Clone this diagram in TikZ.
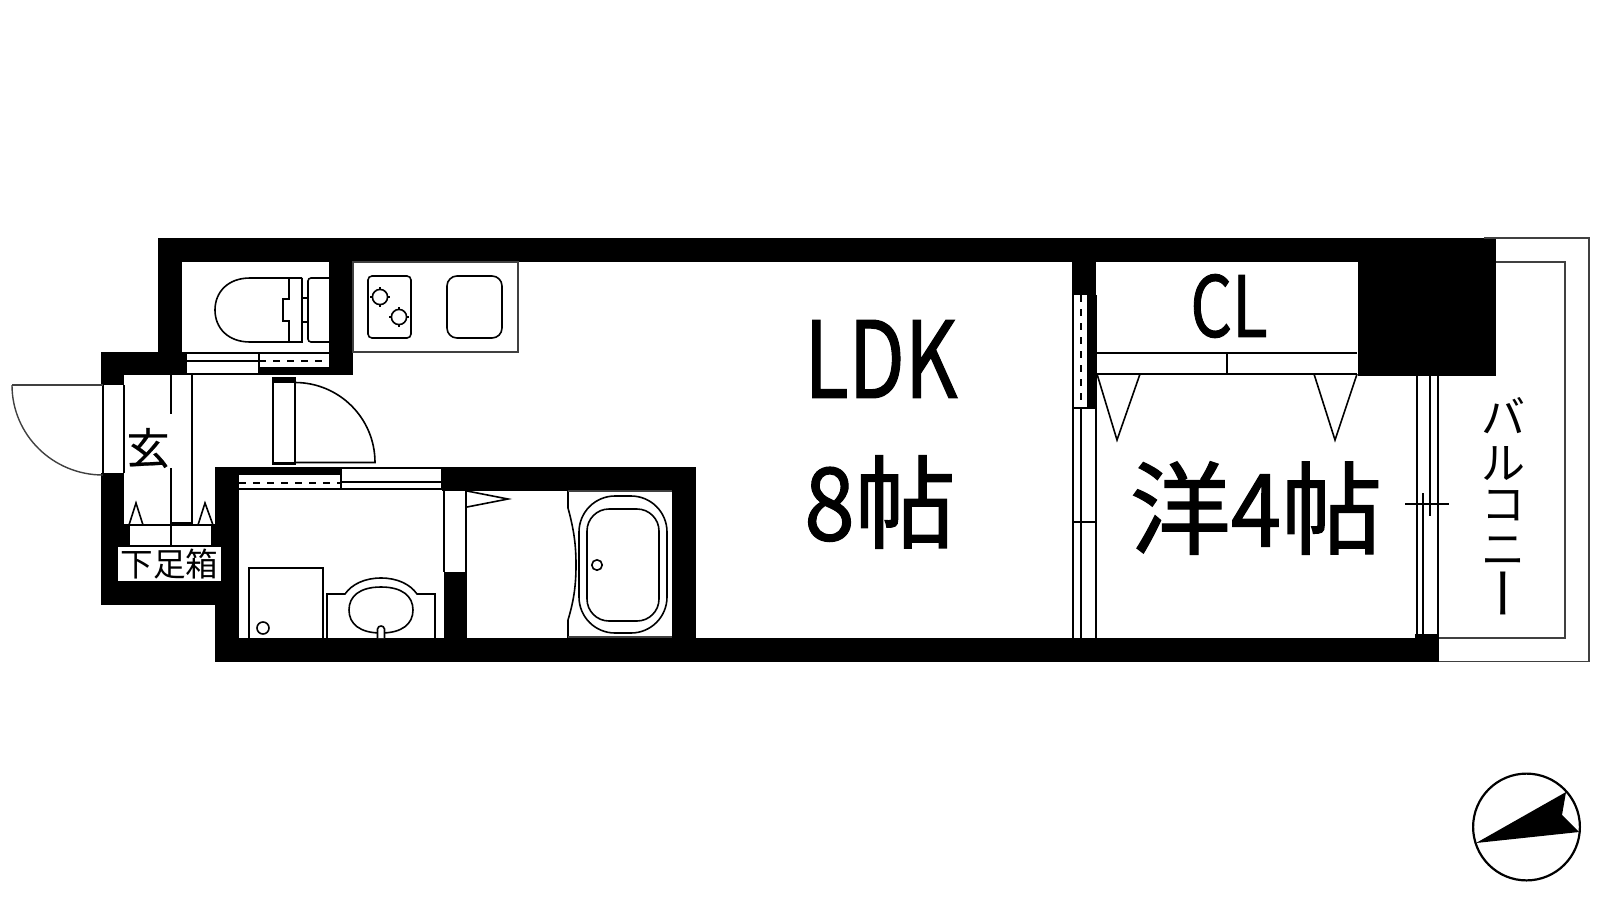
\documentclass[tikz,border=0pt]{standalone}
\usepackage{fontspec}
\setmainfont{Noto Sans CJK JP}
\newfontfamily\heavyfont[FakeBold=1.2]{Noto Sans CJK JP}
\newfontfamily\midfont[FakeBold=0.5]{Noto Sans CJK JP}
\tikzset{
 x=0.5pt,y=-0.5pt,
 wall/.style={fill=black,draw=none},
 ln/.style={draw=black,line width=0.8pt,fill=none},
 thin/.style={draw=black!75,line width=0.7pt,fill=none},
 dsh/.style={draw=black,line width=0.8pt,dash pattern=on 3.5pt off 3.5pt},
 lbl/.style={inner sep=0pt,text=black},
}
\newcommand{\tx}[3]{\scalebox{#2}[1]{\fontsize{#1}{#1}\selectfont #3}}
\begin{document}
\begin{tikzpicture}
\useasboundingbox (0,0) rectangle (1600,900);
\fill[white] (0,0) rectangle (1600,900);
% walls
\fill[wall] (158,238) rectangle (1496,262);
\fill[wall] (158,238) rectangle (182,352);
\fill[wall] (329,262) rectangle (353,375);
\fill[wall] (101,352) rectangle (187,375);
\fill[wall] (101,352) rectangle (124,385);
\fill[wall] (1358,238) rectangle (1496,376);
\fill[wall] (1072,262) rectangle (1096,295);
\fill[wall] (1087,295) rectangle (1096,408);
\fill[wall] (259,367) rectangle (353,375);
\fill[wall] (101,473) rectangle (124,605);
\fill[wall] (101,581) rectangle (239,605);
\fill[wall] (124,546) rectangle (239,581);
\fill[wall] (124,524) rectangle (129,546);
\fill[wall] (212,524) rectangle (239,546);
\fill[wall] (171,522) rectangle (192,525);
\fill[wall] (215,467) rectangle (239,662);
\fill[wall] (215,467) rectangle (341,475);
\fill[wall] (442,467) rectangle (696,491);
\fill[wall] (672,467) rectangle (696,662);
\fill[wall] (215,638) rectangle (1415,662);
\fill[wall] (1415,634) rectangle (1439,662);
\fill[wall] (444,572) rectangle (467,638);
% toilet door strip
\draw[ln] (187,353) -- (332,353);
\draw[ln] (187,361) -- (259,361);
\draw[ln] (187,374) -- (259,374);
\draw[ln] (259,353) -- (259,375);
\draw[dsh] (259,361) -- (332,361);
% toilet
\draw[ln] (302,278) -- (250,278) .. controls (228,278) and (215,292) .. (215,310) .. controls (215,328) and (228,342) .. (250,342) -- (302,342) -- (302,278);
\draw[ln] (289,278) -- (289,299) -- (283,299) -- (283,321) -- (289,321) -- (289,342);
\draw[ln,rounded corners=1.5pt] (329,278) -- (308,278) -- (308,342) -- (329,342);
\draw[ln] (302,298) rectangle (308,322);
% kitchen
\draw[thin] (353,262) rectangle (518,352);
\draw[ln,rounded corners=2pt] (368,276) rectangle (411,338);
\draw[ln,rounded corners=5pt] (447,276) rectangle (502,338);
\foreach \px/\py in {380/297,399/317}{
 \draw[ln] (\px-10,\py) -- (\px+10,\py) (\px,\py-10) -- (\px,\py+10);
 \draw[ln,fill=white] (\px,\py) circle (3.8pt);
 }
% inner door
\draw[ln] (273,382) rectangle (295,463);
\fill[wall] (272,377) rectangle (296,383);
\fill[wall] (272,462) rectangle (296,465);
\draw[ln] (295,382.5) .. controls (339,382.5) and (375,418) .. (375,462.5) -- (295,462.5);
% entrance
\draw[ln] (171,375) -- (171,524);
\draw[ln] (192,375) -- (192,524);
\draw[ln] (103,385) -- (103,473);
\draw[ln] (124,385) -- (124,473);
\draw[thin] (12,385) -- (103,385);
\draw[thin] (12,385) .. controls (12,435) and (53,475) .. (103,475);
\draw[ln] (129,525) rectangle (212,546);
\draw[ln] (171,525) -- (171,546);
\draw[ln] (129,525) -- (136,503) -- (143,525);
\draw[ln] (198,525) -- (205,503) -- (213,525);
\node[fill=white,minimum width=23.5pt,minimum height=27pt,inner sep=0pt] (genbg) at (148.5,441) {};
\node[lbl] (gen) at (148,448) {\fontsize{21.5}{21.5}\midfont 玄};
\node[fill=white,lbl,minimum width=51.5pt,minimum height=17pt] (geta) at (169.5,564) {\fontsize{16.3}{16.3}\selectfont 下足箱};
% wash door strip
\draw[dsh] (239,483) -- (341,483);
\draw[ln] (239,489) -- (442,489);
\draw[ln] (341,468) -- (442,468);
\draw[ln] (341,482) -- (442,482);
\draw[ln] (341,468) -- (341,489);
\draw[ln] (442,468) -- (442,489);
% wash machine
\draw[ln] (249,638) -- (249,568) -- (323,568) -- (323,638);
\draw[ln] (263,628) circle (3pt);
% vanity
\draw[ln] (327,638) -- (327,594) -- (345,594) .. controls (352,584) and (365,578) .. (381,578) .. controls (397,578) and (410,584) .. (417,594) -- (435,594) -- (435,638);
\draw[ln] (381,587) .. controls (402,587) and (413,596) .. (413,610) .. controls (413,624) and (402,633) .. (381,633) .. controls (360,633) and (349,624) .. (349,610) .. controls (349,596) and (360,587) .. (381,587) -- cycle;
\draw[ln,fill=white] (377.5,638) -- (377.5,629) .. controls (378,625) and (384,625) .. (384.5,629) -- (384.5,638);
% bath door
\draw[ln] (444,491) -- (444,572);
\draw[ln] (466,491) -- (466,572);
\draw[ln] (467,491) -- (508,499) -- (467,507);
% bath
\draw[ln] (568,491) -- (568,508) .. controls (574,530) and (576,545) .. (576,565) .. controls (576,585) and (574,600) .. (568,620) -- (568,638);
\draw[thin] (568,491) -- (672,491) (568,637) -- (672,637);
\draw[ln,rounded corners=18pt] (579,496) rectangle (667,633);
\draw[ln,rounded corners=11pt] (587,509) rectangle (659,621);
\draw[ln] (597,565) circle (2.6pt);
% partition LDK/Western
\draw[ln] (1073,295) -- (1073,638);
\draw[ln] (1096,295) -- (1096,638);
\draw[dsh] (1081,295) -- (1081,408);
\draw[ln] (1081,408) -- (1081,638);
\draw[ln] (1073,408) -- (1096,408);
\draw[ln] (1073,522) -- (1096,522);
% closet
\draw[ln] (1097,353) -- (1357,353);
\draw[ln] (1097,374) -- (1357,374);
\draw[ln] (1227,353) -- (1227,374);
\draw[ln] (1097,374) -- (1117,440) -- (1140,374);
\draw[ln] (1314,374) -- (1335,440) -- (1357,374);
% window
\draw[ln] (1417,376) -- (1417,634);
\draw[ln] (1423,493) -- (1423,634);
\draw[ln] (1430,376) -- (1430,516);
\draw[ln] (1438,376) -- (1438,634);
\draw[ln] (1405,504) -- (1449,504);
% balcony
\draw[thin] (1484,238) -- (1589,238) -- (1589,661.5) -- (1439,661.5);
\draw[thin] (1496,262) -- (1565,262) -- (1565,638) -- (1439,638);
% labels
\node[lbl] (ldk) at (881,359) {\tx{53}{0.77}{\heavyfont LDK}};
\node[lbl] (eight) at (880,502) {\tx{50.5}{0.9}{\heavyfont 8}\fontsize{50.5}{50.5}\heavyfont 帖};
\node[lbl] (west) at (1256,508) {\fontsize{50.5}{50.5}\heavyfont 洋\tx{50.5}{0.9}{\heavyfont 4}帖};
\node[lbl] (cl) at (1229,306) {\tx{42}{0.78}{\heavyfont CL}};
\node[lbl] (b1) at (1503,416) {\fontsize{22}{22}\selectfont バ};
\node[lbl] (b2) at (1503,464) {\fontsize{22}{22}\selectfont ル};
\node[lbl] (b3) at (1503,506) {\fontsize{22}{22}\selectfont コ};
\node[lbl] (b4) at (1503,551) {\fontsize{22}{22}\selectfont ニ};
\node[lbl,rotate=-90] (b5) at (1494,593) {\fontsize{27}{27}\selectfont ー};
% compass
\draw[draw=black,line width=1.1pt] (1526.5,827) circle (26.7pt);
\fill[black] (1476,843) -- (1566,792) -- (1562,815) -- (1579,832) -- cycle;
\end{tikzpicture}
\end{document}
